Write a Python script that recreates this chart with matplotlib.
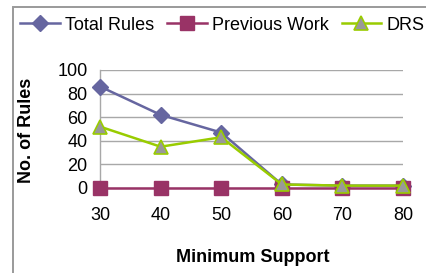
import matplotlib
matplotlib.use("Agg")
import matplotlib.pyplot as plt
from matplotlib.patches import Rectangle

support = [30, 40, 50, 60, 70, 80]
total_rules = [86, 62, 47, 3, 2, 2]
previous_work = [0, 0, 0, 0, 0, 0]
drs = [52, 35, 43, 3, 2, 2]
yticks = [0, 20, 40, 60, 80, 100]

plt.rcParams['font.family'] = ['Liberation Sans', 'DejaVu Sans']
FS = 13

fig = plt.figure(figsize=(4.27, 2.73), dpi=100)
fig.patches.append(Rectangle((13/427, -0.1), 1.2, 1 - 7/273 + 0.1, transform=fig.transFigure,
                             fill=False, edgecolor='#9a9a9a', linewidth=1.4))
ax = fig.add_axes([100/427, 1 - 188/273, 303/427, 118/273])

ax.plot(support, total_rules, color='#6666a0', linewidth=1.8, marker='D', markersize=8,
        markerfacecolor='#6666a0', markeredgecolor='#6666a0', label='Total Rules', clip_on=False, zorder=3)
ax.plot(support, previous_work, color='#993366', linewidth=1.8, marker='s', markersize=9.5,
        markerfacecolor='#993366', markeredgecolor='#993366', label='Previous Work', clip_on=False, zorder=4)
ax.plot(support, drs, color='#99cc00', linewidth=1.8, marker='^', markersize=10.5,
        markerfacecolor='#999999', markeredgecolor='#99cc00', markeredgewidth=1.2,
        label='DRS', clip_on=False, zorder=5)

ax.set_xlim(30, 80)
ax.set_ylim(0, 100)
ax.set_yticks(yticks)
ax.set_xticks(support)
ax.grid(axis='y', color='#a8a8a8', linewidth=1.0)
ax.set_axisbelow(True)
for s in ['top', 'right', 'bottom']:
    ax.spines[s].set_visible(False)
ax.spines['left'].set_color('#a8a8a8')
ax.spines['left'].set_linewidth(1.0)
ax.tick_params(axis='both', length=0, labelsize=FS, colors='black')
ax.tick_params(axis='x', pad=14)
ax.tick_params(axis='y', pad=9)

ax.set_xlabel('Minimum Support', fontsize=FS, fontweight='bold', va='center')
ax.xaxis.set_label_coords(0.503, (188 - 258) / 118)
ax.set_ylabel('No. of Rules', fontsize=FS, fontweight='bold', va='center')
ax.yaxis.set_label_coords((27 - 100) / 303, (188 - 130.5) / 118)

fig.legend(loc='center left', bbox_to_anchor=(20/427, 1 - 25/273), ncol=3, frameon=False,
           fontsize=FS, handlelength=2.2, handletextpad=0.3, columnspacing=0.7, borderaxespad=0,
           borderpad=0)

fig.savefig('out.png', dpi=100)
